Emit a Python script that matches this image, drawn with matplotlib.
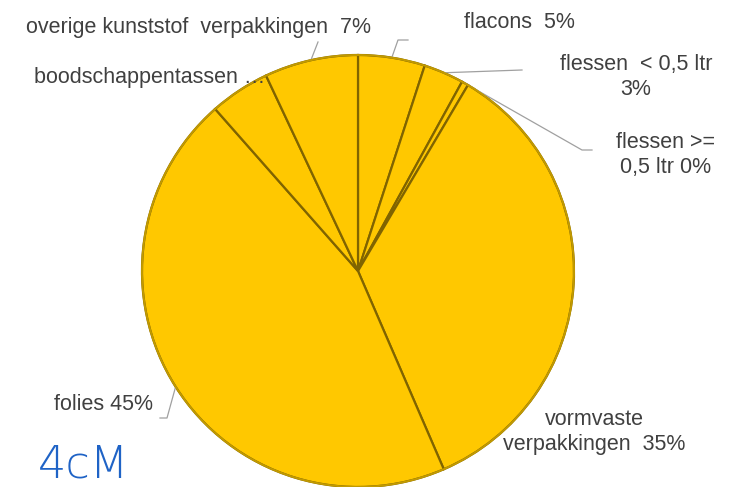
import numpy as np
import matplotlib
matplotlib.use("Agg")
import matplotlib.pyplot as plt

categories = ["flacons", "flessen < 0,5 ltr", "flessen >= 0,5 ltr", "vormvaste verpakkingen",
              "folies", "boodschappentassen", "overige kunststof verpakkingen"]
values = [5, 3, 0.5, 35, 45, 4.5, 7]
labels = ["flacons  5%", "flessen  < 0,5 ltr\n3%", "flessen >=\n0,5 ltr 0%", "vormvaste\nverpakkingen  35%",
          "folies 45%", "boodschappentassen …", "overige kunststof  verpakkingen  7%"]

W, H = 730, 487
fig = plt.figure(figsize=(7.3, 4.87), dpi=100)
ax = fig.add_axes([0, 0, 1, 1])

cx, cy, R = 358, H - 271, 216
wedges, _ = ax.pie(values, startangle=90, counterclock=False, center=(cx, cy), radius=R,
                   colors=['#FFC800'] * len(values),
                   wedgeprops=dict(edgecolor='#806400', linewidth=1.6, antialiased=True),
                   frame=True)
ax.set_xlim(0, W)
ax.set_ylim(0, H)
ax.set_aspect('equal')
ax.axis('off')
# rim
circ = plt.Circle((cx, cy), R, fill=False, edgecolor='#c29a00', linewidth=1.4, zorder=3)
ax.add_patch(circ)

# label positions (text anchor in pixel coords, top-origin)
pos = {
    0: (519, 22),
    1: (636, 77),
    2: (666, 155),
    3: (594, 432),
    4: (103, 405),
    5: (150, 78),
    6: (199, 28),
}
tc = '#404040'
for i, (x, y) in pos.items():
    ax.text(x, H - y, labels[i], ha='center', va='center', fontsize=15.5, color=tc,
            family='Liberation Sans', linespacing=1.3, multialignment='center')

def edge_pt(i, frac=1.0):
    w = wedges[i]
    a = np.deg2rad((w.theta1 + w.theta2) / 2)
    return cx + R * frac * np.cos(a), cy + R * frac * np.sin(a)

lc = '#a0a0a0'
# leader lines
ex, ey = edge_pt(0)
ax.plot([408, 398, ex], [H - 40, H - 40, ey], color=lc, lw=0.9)
ex, ey = edge_pt(1)
ax.plot([522, ex], [H - 70, ey], color=lc, lw=0.9)
ex, ey = edge_pt(2)
ax.plot([592, 582, ex], [H - 150, H - 150, ey], color=lc, lw=0.9)
ex, ey = edge_pt(4)
ax.plot([160, 167, ex], [H - 418, H - 418, ey], color=lc, lw=0.9)
ex, ey = edge_pt(6)
ax.plot([318, ex], [H - 42, ey], color=lc, lw=0.9)

# handwritten note
ax.text(38, H - 465, "4cM", fontsize=32, color='#1f63c6', family='DejaVu Sans',
        fontweight='light', va='center', ha='left')

fig.savefig("out.png", dpi=100)
